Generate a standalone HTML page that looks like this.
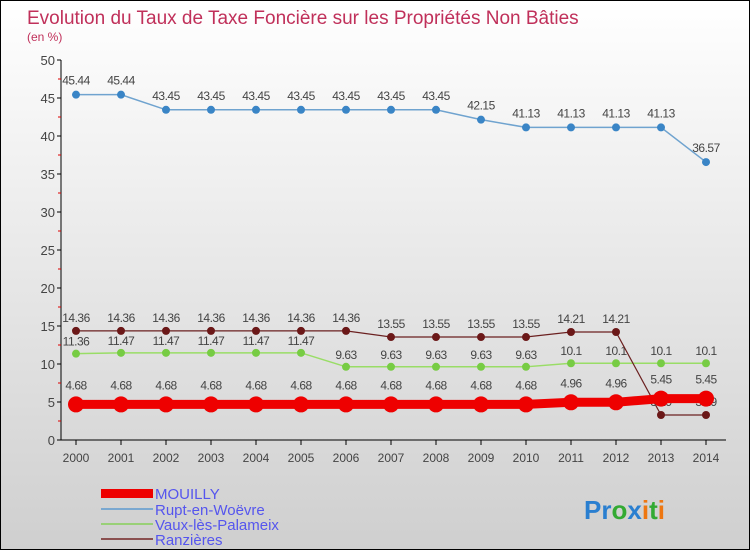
<!DOCTYPE html>
<html><head><meta charset="utf-8"><style>
html,body{margin:0;padding:0}
body{width:750px;height:550px;overflow:hidden;font-family:"Liberation Sans",sans-serif}
#wrap{position:relative;width:748px;height:548px;border:1px solid #000;background:linear-gradient(#ffffff,#cfcfcf)}
svg{position:absolute;left:0;top:0}
</style></head><body>
<div id="wrap">
<svg id="chart" width="748" height="548">
<text x="26" y="23" font-size="19" fill="#c0305a">Evolution du Taux de Taxe Foncière sur les Propriétés Non Bâties</text>
<text x="26" y="40" font-size="12" fill="#c0305a">(en %)</text>
<g id="axes"></g><g id="series"></g>
<g>
<rect x="100" y="488" width="52" height="9" fill="#ee0000"/>
<text x="154" y="498" font-size="15" fill="#5555ee">MOUILLY</text>
<rect x="100" y="507" width="52" height="2" fill="#7aa8d0"/>
<text x="154" y="514" font-size="15" fill="#5555ee">Rupt-en-Woëvre</text>
<rect x="100" y="522" width="52" height="2" fill="#99d077"/>
<text x="154" y="529" font-size="15" fill="#5555ee">Vaux-lès-Palameix</text>
<rect x="100" y="537" width="52" height="2" fill="#8a5050"/>
<text x="154" y="544" font-size="15" fill="#5555ee">Ranzières</text>
</g>
<text x="583" y="518" font-size="26" font-weight="bold"><tspan fill="#2a7fd0">Pr</tspan><tspan fill="#33aa33">o</tspan><tspan fill="#2a7fd0">x</tspan><tspan fill="#ee7711">i</tspan><tspan fill="#33aa33">t</tspan><tspan fill="#ee7711">i</tspan></text>
</svg></div>
<script>
const years=[2000,2001,2002,2003,2004,2005,2006,2007,2008,2009,2010,2011,2012,2013,2014];
const yTicks=[0,5,10,15,20,25,30,35,40,45,50];
const mouilly=[4.68,4.68,4.68,4.68,4.68,4.68,4.68,4.68,4.68,4.68,4.68,4.96,4.96,5.45,5.45];
const rupt=[45.44,45.44,43.45,43.45,43.45,43.45,43.45,43.45,43.45,42.15,41.13,41.13,41.13,41.13,36.57];
const vaux=[11.36,11.47,11.47,11.47,11.47,11.47,9.63,9.63,9.63,9.63,9.63,10.1,10.1,10.1,10.1];
const ranz=[14.36,14.36,14.36,14.36,14.36,14.36,14.36,13.55,13.55,13.55,13.55,14.21,14.21,3.29,3.29];
const NS="http://www.w3.org/2000/svg";
function X(i){return 75+(years[i]-years[0])*45;}
function Y(v){return 439-v*7.6;}
function mk(tag,attrs,parent){const e=document.createElementNS(NS,tag);for(const k in attrs)e.setAttribute(k,attrs[k]);parent.appendChild(e);return e;}
const axes=document.getElementById('axes'),ser=document.getElementById('series');
let l=mk('line',{x1:60,y1:Y(50),x2:60,y2:Y(0),stroke:'#000'},axes);


l=mk('line',{x1:60,y1:Y(0),x2:725,y2:Y(0),stroke:'#000'},axes);


yTicks.forEach(t=>{
  mk('line',{x1:56,y1:Y(t),x2:60,y2:Y(t),stroke:'#000'},axes);
  if(t<50)mk('line',{x1:57,y1:Y(t+2.5),x2:60,y2:Y(t+2.5),stroke:'#d00'},axes);
  const tx=mk('text',{x:54,y:Y(t)+5,'font-size':13,fill:'#444','text-anchor':'end'},axes);
  tx.textContent=t;
  
  
});
years.forEach((yr,i)=>{
  mk('line',{x1:X(i),y1:Y(0),x2:X(i),y2:Y(0)+5,stroke:'#000'},axes);
  const tx=mk('text',{x:X(i),y:Y(0)+22,'font-size':12,fill:'#444','text-anchor':'middle'},axes);
  tx.textContent=yr;
  
  
});
function series(data,color,dot,w,r,name,lblOff){
  const g=mk('g',{},ser);
  
  
  const p=mk('polyline',{points:data.map((v,i)=>X(i)+','+Y(v)).join(' '),fill:'none',stroke:color,'stroke-width':w},g);
  
  
  data.forEach((v,i)=>{
    const c=mk('circle',{cx:X(i),cy:Y(v),r:r,fill:dot},g);
    
    
    const t=mk('text',{x:X(i),y:Y(v)-lblOff,'font-size':12,fill:'#444','text-anchor':'middle','letter-spacing':'-0.5'},g);
    t.textContent=String(v);
    
    
  });
}
series(rupt,'#6fa3cf','#3a85c6',1.5,4,'rupt',10);
series(vaux,'#99dd66','#77cc44',1.5,4,'vaux',8);
series(ranz,'#6b2020','#6b1818',1.2,4,'ranz',9);
series(mouilly,'#ee0000','#ee0000',9,8,'mouilly',15);
</script>
</body></html>
